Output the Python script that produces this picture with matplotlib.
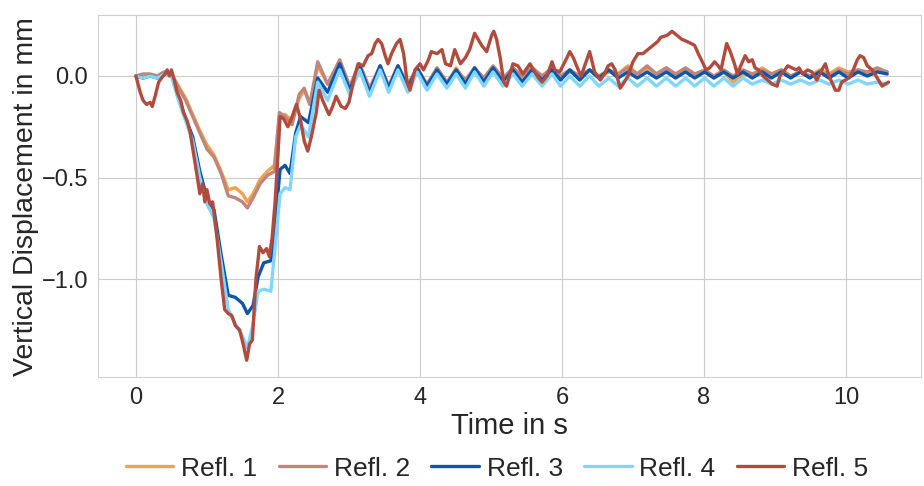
import matplotlib
matplotlib.use("Agg")
import matplotlib.pyplot as plt
import seaborn as sns

# ---- data (time in s, displacement in mm) ----
# early part (impact) for Refl. 1 / 2
t_early_12 = [0, 0.1, 0.2, 0.3, 0.4, 0.5, 0.6, 0.7, 0.8, 0.9,
              1.0, 1.1, 1.2, 1.3, 1.4, 1.5, 1.57, 1.65, 1.75, 1.85,
              1.95, 2.02, 2.1, 2.2, 2.3, 2.37, 2.45, 2.56, 2.7]
refl1_early = [0, 0.0, 0.0, 0.0, 0.02, 0.01, -0.05, -0.11, -0.19, -0.27,
               -0.34, -0.39, -0.47, -0.56, -0.55, -0.58, -0.62, -0.58, -0.51, -0.47,
               -0.44, -0.20, -0.19, -0.22, -0.11, -0.07, -0.14, 0.05, -0.04]
refl2_early = [0, 0.01, 0.01, 0.0, 0.02, 0.01, -0.06, -0.12, -0.20, -0.28,
               -0.36, -0.40, -0.48, -0.59, -0.60, -0.62, -0.65, -0.60, -0.53, -0.49,
               -0.47, -0.18, -0.20, -0.24, -0.09, -0.06, -0.14, 0.07, -0.04]

# early part for Refl. 3 / 4
t_early_34 = [0, 0.1, 0.2, 0.3, 0.4, 0.5, 0.6, 0.7, 0.8, 0.9,
              1.0, 1.1, 1.2, 1.3, 1.4, 1.5, 1.57, 1.65, 1.72, 1.8,
              1.9, 1.95, 2.03, 2.1, 2.17, 2.25, 2.32, 2.43, 2.56, 2.7]
refl3_early = [0, -0.01, 0.0, -0.01, 0.01, 0.01, -0.11, -0.21, -0.30, -0.47,
               -0.60, -0.66, -0.88, -1.08, -1.09, -1.12, -1.17, -1.13, -0.99, -0.92,
               -0.91, -0.77, -0.46, -0.44, -0.48, -0.28, -0.20, -0.23, -0.01, -0.08]
refl4_early = [0, -0.01, 0.0, -0.01, 0.01, 0.0, -0.12, -0.22, -0.32, -0.50,
               -0.63, -0.70, -0.92, -1.15, -1.22, -1.28, -1.34, -1.22, -1.06, -1.05,
               -1.06, -0.88, -0.58, -0.55, -0.56, -0.30, -0.24, -0.30, -0.03, -0.12]

# decaying oscillation after ~2.9 s (peaks / troughs)
t_osc = [2.87, 3.01, 3.15, 3.29, 3.44, 3.56, 3.69, 3.83, 3.96, 4.10,
         4.24, 4.38, 4.51, 4.64, 4.77, 4.90, 5.03, 5.17, 5.31, 5.44,
         5.58, 5.72, 5.86, 5.98, 6.11, 6.25, 6.39, 6.52, 6.66, 6.79,
         6.93, 7.06, 7.20, 7.33, 7.47, 7.60, 7.74, 7.87, 8.01, 8.14,
         8.28, 8.41, 8.55, 8.68, 8.82, 8.95, 9.09, 9.22, 9.36, 9.49,
         9.63, 9.76, 9.90, 10.03, 10.17, 10.30, 10.44, 10.58]
refl1_osc = [0.07, -0.06, 0.05, -0.07, 0.05, -0.05, 0.05, -0.05, 0.04, -0.06,
             0.04, -0.04, 0.04, -0.03, 0.04, -0.02, 0.04, -0.02, 0.04, -0.01,
             0.04, 0.0, 0.03, -0.01, 0.02, 0.0, 0.03, -0.01, 0.02, 0.01,
             0.05, 0.01, 0.04, 0.01, 0.04, 0.0, 0.03, 0.0, 0.02, -0.01,
             0.02, -0.03, 0.01, 0.0, 0.04, 0.01, 0.03, 0.0, 0.02, 0.0,
             0.03, 0.01, 0.04, 0.02, 0.03, 0.01, 0.03, 0.02]
refl2_osc = [0.08, -0.05, 0.06, -0.06, 0.05, -0.05, 0.05, -0.04, 0.04, -0.04,
             0.04, -0.03, 0.03, -0.02, 0.04, -0.01, 0.05, -0.01, 0.04, 0.0,
             0.04, 0.0, 0.04, 0.0, 0.03, 0.0, 0.03, 0.0, 0.03, 0.01,
             0.04, 0.01, 0.05, 0.01, 0.04, 0.01, 0.04, 0.01, 0.03, 0.0,
             0.03, 0.0, 0.03, 0.01, 0.03, 0.01, 0.03, 0.0, 0.02, 0.0,
             0.02, 0.0, 0.03, 0.01, 0.03, 0.02, 0.04, 0.02]
refl3_osc = [0.06, -0.07, 0.05, -0.08, 0.05, -0.06, 0.05, -0.06, 0.04, -0.05,
             0.03, -0.04, 0.03, -0.04, 0.04, -0.03, 0.04, -0.03, 0.03, -0.03,
             0.03, -0.02, 0.03, -0.02, 0.03, -0.02, 0.03, -0.01, 0.03, -0.01,
             0.02, -0.01, 0.02, -0.01, 0.02, -0.01, 0.02, -0.01, 0.02, -0.01,
             0.02, -0.01, 0.02, -0.01, 0.02, -0.01, 0.02, -0.01, 0.02, -0.01,
             0.02, -0.01, 0.02, -0.01, 0.02, 0.0, 0.02, 0.01]
refl4_osc = [0.03, -0.09, 0.03, -0.10, 0.03, -0.08, 0.03, -0.08, 0.02, -0.07,
             0.01, -0.06, 0.01, -0.06, 0.02, -0.05, 0.02, -0.05, 0.01, -0.05,
             0.01, -0.05, 0.01, -0.05, 0.0, -0.05, 0.0, -0.05, -0.01, -0.05,
             -0.01, -0.05, -0.01, -0.05, -0.01, -0.05, -0.01, -0.05, -0.01, -0.05,
             -0.01, -0.05, -0.01, -0.04, -0.02, -0.04, -0.02, -0.04, -0.02, -0.04,
             -0.02, -0.04, -0.02, -0.04, -0.02, -0.04, -0.03, -0.04]

# Refl. 5 is noisier, read on its own time base
t5 = [0, 0.06, 0.1, 0.15, 0.2, 0.23, 0.27, 0.32, 0.36, 0.41,
      0.44, 0.47, 0.5, 0.54, 0.58, 0.63, 0.67, 0.72, 0.76, 0.82,
      0.87, 0.9, 0.94, 0.97, 1.0, 1.04, 1.08, 1.14, 1.2, 1.25,
      1.3, 1.35, 1.4, 1.46, 1.51, 1.56, 1.6, 1.64, 1.69, 1.74,
      1.79, 1.84, 1.88, 1.92, 1.96, 2.0, 2.03, 2.08, 2.14, 2.19,
      2.26, 2.31, 2.37, 2.42, 2.47, 2.54, 2.58, 2.63, 2.68, 2.72,
      2.77, 2.82, 2.89, 2.95, 3.0, 3.08, 3.13, 3.2, 3.27, 3.32,
      3.37, 3.41, 3.46, 3.51, 3.55, 3.6, 3.67, 3.72, 3.77, 3.82,
      3.86, 3.93, 4.0, 4.05, 4.12, 4.16, 4.24, 4.31, 4.36, 4.43,
      4.49, 4.57, 4.64, 4.7, 4.77, 4.82, 4.87, 4.94, 5.01, 5.04,
      5.08, 5.13, 5.18, 5.22, 5.26, 5.31, 5.38, 5.45, 5.55, 5.6,
      5.67, 5.72, 5.79, 5.86, 5.9, 5.97, 6.07, 6.11, 6.16, 6.23,
      6.27, 6.34, 6.39, 6.46, 6.54, 6.6, 6.65, 6.7, 6.75, 6.82,
      6.86, 6.93, 7.0, 7.07, 7.14, 7.21, 7.28, 7.35, 7.39, 7.48,
      7.55, 7.62, 7.69, 7.76, 7.82, 7.87, 7.92, 7.99, 8.03, 8.08,
      8.15, 8.2, 8.24, 8.32, 8.37, 8.43, 8.47, 8.53, 8.58, 8.63,
      8.68, 8.72, 8.77, 8.83, 8.9, 8.96, 9.03, 9.07, 9.14, 9.18,
      9.24, 9.3, 9.34, 9.39, 9.46, 9.52, 9.59, 9.66, 9.71, 9.76,
      9.8, 9.85, 9.9, 9.94, 9.99, 10.04, 10.08, 10.16, 10.2, 10.25,
      10.3, 10.37, 10.44, 10.51, 10.55, 10.6]
refl5 = [0, -0.08, -0.12, -0.14, -0.13, -0.15, -0.10, -0.03, -0.01, 0.01,
         0.03, 0.0, 0.03, -0.02, -0.08, -0.12, -0.18, -0.22, -0.27, -0.40,
         -0.51, -0.58, -0.53, -0.62, -0.56, -0.63, -0.62, -0.79, -1.0, -1.15,
         -1.17, -1.18, -1.23, -1.25, -1.32, -1.40, -1.32, -1.30, -1.0, -0.84,
         -0.87, -0.85, -0.89, -0.79, -0.62, -0.39, -0.20, -0.21, -0.25, -0.21,
         -0.14, -0.20, -0.32, -0.37, -0.30, -0.18, -0.07, -0.12, -0.16, -0.19,
         -0.15, -0.10, -0.15, -0.16, -0.13, 0.0, 0.06, 0.05, 0.10, 0.11,
         0.16, 0.18, 0.16, 0.10, 0.06, 0.11, 0.16, 0.18, 0.11, -0.03,
         -0.07, 0.03, 0.06, 0.03, 0.08, 0.12, 0.11, 0.13, 0.06, 0.05,
         0.13, 0.06, 0.09, 0.13, 0.21, 0.18, 0.15, 0.12, 0.20, 0.22,
         0.18, 0.09, -0.03, -0.05, 0.0, 0.06, 0.05, 0.01, 0.06, 0.03,
         -0.01, -0.03, 0.0, 0.07, 0.03, 0.02, 0.09, 0.12, 0.09, 0.03,
         0.0, 0.07, 0.12, 0.02, -0.02, 0.01, 0.05, 0.06, 0.03, -0.06,
         -0.04, 0.0, 0.07, 0.11, 0.11, 0.13, 0.15, 0.17, 0.19, 0.20,
         0.22, 0.20, 0.18, 0.17, 0.16, 0.15, 0.11, 0.06, 0.03, 0.04,
         0.07, 0.05, 0.03, 0.16, 0.12, 0.06, 0.01, 0.06, 0.10, 0.07,
         0.08, 0.04, 0.03, 0.0, -0.02, -0.04, -0.05, 0.0, 0.03, 0.05,
         0.04, 0.03, 0.04, 0.01, 0.03, 0.02, -0.02, 0.03, 0.06, 0.0,
         -0.03, -0.07, -0.07, -0.03, -0.02, -0.01, 0.01, 0.08, 0.10, 0.09,
         0.05, 0.03, -0.01, -0.05, -0.04, -0.03]

labels = ["Refl. 1", "Refl. 2", "Refl. 3", "Refl. 4", "Refl. 5"]
colors = ["#f2a24c", "#c0857b", "#0a56a8", "#80d6ff", "#b04b3e"]

series = [
    (t_early_12 + t_osc, refl1_early + refl1_osc),
    (t_early_12 + t_osc, refl2_early + refl2_osc),
    (t_early_34 + t_osc, refl3_early + refl3_osc),
    (t_early_34 + t_osc, refl4_early + refl4_osc),
    (t5, refl5),
]

sns.set_style("whitegrid")
plt.rcParams["font.family"] = ["Liberation Sans", "DejaVu Sans"]

fig = plt.figure(figsize=(9.24, 4.86), dpi=100)
ax = fig.add_axes([0.106, 0.224, 0.891, 0.745])

for (t, y), lab, c in zip(series, labels, colors):
    ax.plot(t, y, color=c, lw=2.4, label=lab,
            solid_joinstyle="round", solid_capstyle="round")

ax.set_xlim(-0.535, 11.06)
ax.set_ylim(-1.483, 0.30)
ax.set_xticks([0, 2, 4, 6, 8, 10])
ax.set_yticks([-1.0, -0.5, 0.0])
ax.tick_params(labelsize=17)
ax.set_xlabel("Time in s", fontsize=21, labelpad=2)
ax.set_ylabel("Vertical Displacement in mm", fontsize=20.5, labelpad=2)

for s in ax.spines.values():
    s.set_color("#d0d0d0")

fig.legend(loc="center", bbox_to_anchor=(0.538, 0.036), ncol=5, frameon=False,
           fontsize=19, handlelength=1.8, handletextpad=0.3, columnspacing=0.8)

fig.savefig("out.png", dpi=100)
